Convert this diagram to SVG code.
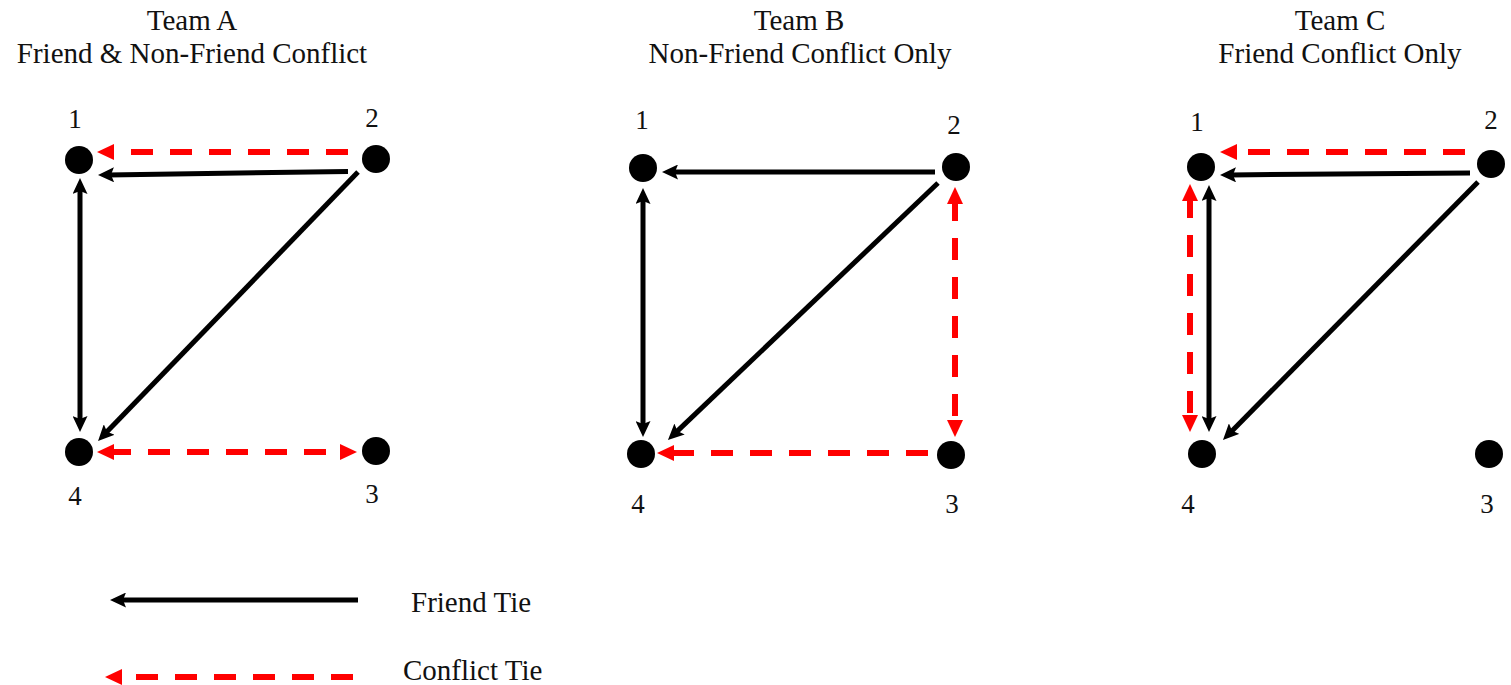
<svg xmlns="http://www.w3.org/2000/svg" width="1511" height="685" viewBox="0 0 1511 685">
<style>
text{font-family:"Liberation Serif","Times New Roman",serif;fill:#111;}
.title{font-size:29px;text-anchor:middle;}
.num{font-size:27px;text-anchor:middle;}
.leg{font-size:29px;}
.node{fill:#000;}
.f{stroke:#000;stroke-width:5;fill:none;}
.c{stroke:#f00;stroke-width:6;fill:none;stroke-dasharray:22 17;}
.f1{marker-end:url(#ab);}
.f2{marker-start:url(#ab);marker-end:url(#ab);}
.c1{marker-end:url(#ar);}
.c2{marker-start:url(#ar);marker-end:url(#ar);}
</style>
<defs>
<marker id="ab" markerUnits="userSpaceOnUse" viewBox="0 0 16 15" markerWidth="16" markerHeight="15" refX="6" refY="7.5" orient="auto-start-reverse"><path d="M0,0 L16,7.5 L0,15 L3,7.5 z" fill="#000"/></marker>
<marker id="ar" markerUnits="userSpaceOnUse" viewBox="0 0 17 16" markerWidth="17" markerHeight="16" refX="5" refY="8" orient="auto-start-reverse"><path d="M0,0 L17,8 L0,16 z" fill="#f00"/></marker>
</defs>
<rect width="1511" height="685" fill="#fff"/>
<g id="titles">
<text class="title" x="192" y="30">Team A</text>
<text class="title" x="192" y="63">Friend &amp; Non-Friend Conflict</text>
<text class="title" x="799" y="30">Team B</text>
<text class="title" x="800" y="63">Non-Friend Conflict Only</text>
<text class="title" x="1340" y="30">Team C</text>
<text class="title" x="1340" y="63">Friend Conflict Only</text>
</g>
<g id="connectors">
<!-- Team A -->
<line class="c c1" x1="348" y1="152" x2="109" y2="152"/>
<line class="f f1" x1="348" y1="171.5" x2="108" y2="174.9"/>
<line class="f f2" x1="80" y1="188" x2="80" y2="422"/>
<line class="f f1" x1="358" y1="172" x2="105" y2="433.8"/>
<line class="c c2" x1="109" y1="452" x2="345" y2="452"/>
<!-- Team B -->
<line class="f f1" x1="935" y1="172" x2="672" y2="172"/>
<line class="f f2" x1="643" y1="198" x2="643" y2="427"/>
<line class="f f1" x1="938" y1="183" x2="675.2" y2="433.1"/>
<line class="c c2" x1="955" y1="199" x2="955" y2="425"/>
<line class="c c1" x1="928" y1="453" x2="669" y2="453"/>
<!-- Team C -->
<line class="c c1" x1="1465" y1="152" x2="1232" y2="152"/>
<line class="f f1" x1="1470" y1="173" x2="1230" y2="174.9"/>
<line class="c c2" x1="1190" y1="196" x2="1190" y2="420"/>
<line class="f f2" x1="1209" y1="195" x2="1209" y2="422"/>
<line class="f f1" x1="1478" y1="182" x2="1230" y2="432.9"/>
</g>
<g id="A1"><circle class="node" cx="79" cy="160" r="14"/><text class="num" x="75" y="128">1</text></g>
<g id="A2"><circle class="node" cx="376" cy="159" r="14"/><text class="num" x="372" y="127">2</text></g>
<g id="A3"><circle class="node" cx="376" cy="451" r="14"/><text class="num" x="372" y="503">3</text></g>
<g id="A4"><circle class="node" cx="79" cy="452" r="14"/><text class="num" x="75" y="505">4</text></g>
<g id="B1"><circle class="node" cx="643" cy="168" r="14"/><text class="num" x="642" y="129">1</text></g>
<g id="B2"><circle class="node" cx="956" cy="167" r="14"/><text class="num" x="954" y="134">2</text></g>
<g id="B3"><circle class="node" cx="951" cy="455" r="14"/><text class="num" x="952" y="513">3</text></g>
<g id="B4"><circle class="node" cx="641" cy="454" r="14"/><text class="num" x="638" y="513">4</text></g>
<g id="C1"><circle class="node" cx="1201" cy="167" r="14"/><text class="num" x="1197" y="131">1</text></g>
<g id="C2"><circle class="node" cx="1491" cy="164" r="14"/><text class="num" x="1491" y="129">2</text></g>
<g id="C3"><circle class="node" cx="1489" cy="454" r="14"/><text class="num" x="1487" y="513">3</text></g>
<g id="C4"><circle class="node" cx="1202" cy="454" r="14"/><text class="num" x="1188" y="513">4</text></g>
<g id="legend">
<line class="f f1" x1="358" y1="600" x2="120" y2="600"/>
<text class="leg" x="411" y="612">Friend Tie</text>
<line class="c c1" x1="353" y1="677" x2="117" y2="677"/>
<text class="leg" x="403" y="680">Conflict Tie</text>
</g>
</svg>
